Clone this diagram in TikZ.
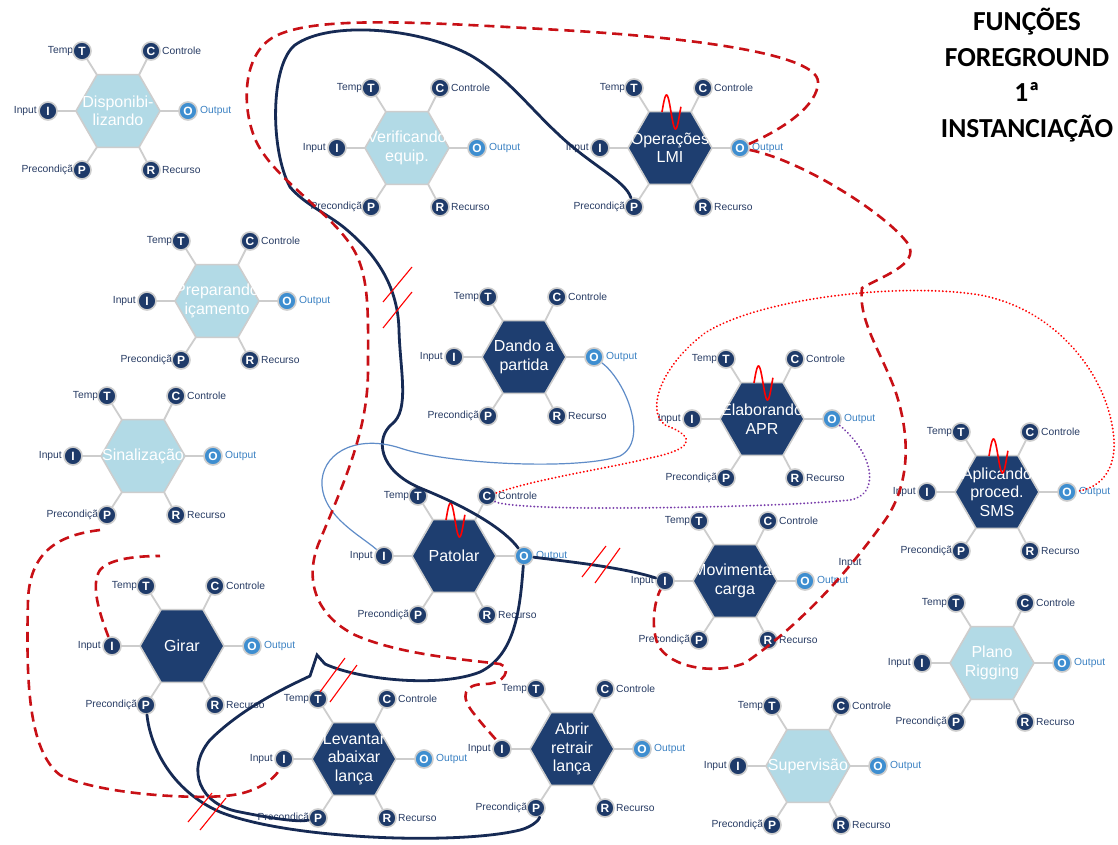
\documentclass[tikz,border=0pt]{standalone}
\usepackage{fontspec}
\setmainfont{Liberation Sans}
\newfontfamily\titlefont{Carlito}
\usetikzlibrary{shapes.geometric}
\definecolor{hexdark}{RGB}{30,62,112}
\definecolor{hexlight}{RGB}{178,218,230}
\definecolor{hexedge}{RGB}{205,205,205}
\definecolor{aspfill}{RGB}{30,58,105}
\definecolor{outfill}{RGB}{62,142,208}
\definecolor{lblcol}{RGB}{40,60,100}
\definecolor{outlbl}{RGB}{60,130,195}
\definecolor{navyline}{RGB}{22,42,84}
\definecolor{reddash}{RGB}{200,16,22}
\definecolor{thinblue}{RGB}{95,140,200}
\definecolor{purpledot}{RGB}{120,60,170}
\tikzset{
 hexd/.style={regular polygon, regular polygon sides=6, minimum size=84pt, inner sep=0pt, fill=hexdark, draw=hexedge, line width=1.6pt},
 hexl/.style={hexd, fill=hexlight},
 aspline/.style={draw=hexedge, line width=1.8pt},
 asp/.style={circle, minimum size=18pt, inner sep=0pt, fill=aspfill, draw=hexedge, line width=1.6pt, text=white, font=\fontsize{12}{12}\selectfont\bfseries},
 aspout/.style={asp, fill=outfill},
 lbl/.style={inner sep=0pt, text=lblcol, font=\fontsize{10.3}{11}\selectfont},
 outl/.style={lbl, text=outlbl},
 hextxt/.style={text=white, align=center, font=\fontsize{16}{18.5}\selectfont, inner sep=0pt},
 navyc/.style={draw=navyline, line width=2.8pt, line cap=round},
 dashr/.style={draw=reddash, line width=2.6pt, dash pattern=on 10pt off 6pt},
 dotr/.style={draw=red, line width=2pt, dash pattern=on 0.1pt off 3.5pt, line cap=round},
 dotp/.style={draw=purpledot, line width=2pt, dash pattern=on 0.1pt off 3.5pt, line cap=round},
 thinb/.style={draw=thinblue, line width=1.2pt},
 slash/.style={draw=red, line width=1.1pt},
 wavec/.style={draw=red, line width=1.6pt},
 titl/.style={align=center, font=\titlefont\bfseries\fontsize{27.5}{35.5}\selectfont, inner sep=0pt},
}
\newcommand{\framfn}[5]{%
\begin{scope}[shift={(#2,#3)}]
 \draw[aspline] (-36,-60) -- (-21,-36);
 \draw[aspline] (33,-60) -- (21,-36);
 \draw[aspline] (-70,0) -- (-42,0);
 \draw[aspline] (70,0) -- (42,0);
 \draw[aspline] (-36,59) -- (-21,36);
 \draw[aspline] (33,59) -- (21,36);
 \node[#5] (#1) at (0,0) {};
 \node[lbl, anchor=east] (#1-lt) at (-39,-60) {Tempo};
 \node[lbl, anchor=west] (#1-lc) at (44,-60) {Controle};
 \node[lbl, anchor=east] (#1-li) at (-81,0) {Input};
 \node[outl, anchor=west] (#1-lo) at (82,0) {Output};
 \node[lbl, anchor=east] (#1-lp) at (-39,59) {Precondição};
 \node[lbl, anchor=west] (#1-lr) at (44,59) {Recurso};
 \node[asp] (#1-T) at (-36,-60) {T};
 \node[asp] (#1-C) at (33,-60) {C};
 \node[asp] (#1-I) at (-70,0) {I};
 \node[aspout] (#1-O) at (70,0) {O};
 \node[asp] (#1-P) at (-36,59) {P};
 \node[asp] (#1-R) at (33,59) {R};
 \node[hextxt] (#1-txt) at (0,0) {#4};
\end{scope}}
\newcommand{\framwave}[2]{\draw[wavec] plot[domain=0:1.05, samples=40, smooth] ({#1-8+18*\x}, {#2-36-17*sin(360*\x)});}
\begin{document}
\begin{tikzpicture}[x=1pt,y=-1pt]
\useasboundingbox (0,0) rectangle (1118,845);
\fill[white] (0,0) rectangle (1118,845);
\node[titl] (title) at (1027,75) {FUNÇÕES\\FOREGROUND\\1ª\\INSTANCIAÇÃO};

\framfn{dis}{118}{111}{Disponibi-\\lizando}{hexl}
\framfn{ver}{407}{148}{Verificando\\equip.}{hexl}
\framfn{ope}{670}{148}{Operações\\LMI}{hexd}
\framfn{pre}{217}{301}{Preparando\\içamento}{hexl}
\framfn{dan}{524}{357}{Dando a\\partida}{hexd}
\framfn{ela}{762}{419}{Elaborando\\APR}{hexd}
\framfn{sin}{143}{456}{Sinalização}{hexl}
\framfn{apl}{997}{492}{Aplicando\\proced.\\SMS}{hexd}
\framfn{pat}{454}{556}{Patolar}{hexd}
\framfn{mov}{735}{581}{Movimentar\\carga}{hexd}
\framfn{gir}{182}{646}{Girar}{hexd}
\framfn{pla}{992}{663}{Plano\\Rigging}{hexl}
\framfn{lev}{354}{759}{Levantar\\abaixar\\lança}{hexd}
\framfn{abr}{572}{749}{Abrir\\retrair\\lança}{hexd}
\framfn{sup}{808}{766}{Supervisão}{hexl}
\node[lbl] (stray) at (850,563) {Input};

\framwave{670}{148}
\framwave{762}{419}
\framwave{997}{492}
\framwave{454}{556}

% navy solid
\draw[navyc] (ope-P) .. controls (625,180) and (590,165) .. (557,133) .. controls (530,108) and (505,75) .. (470,55) .. controls (420,28) and (330,20) .. (295,45) .. controls (270,65) and (270,150) .. (290,187) .. controls (305,205) and (330,215) .. (347,230) .. controls (380,258) and (398,290) .. (399,330) .. controls (400,370) and (410,410) .. (392,424) .. controls (375,438) and (378,470) .. (420,488) .. controls (470,508) and (505,530) .. (pat-O);
\draw[navyc] (pat-O) .. controls (580,563) and (625,568) .. (mov-I);
\draw[navyc] (pat-O) .. controls (520,610) and (515,655) .. (480,672) .. controls (440,688) and (360,680) .. (325,664) -- (317,655) -- (310,676) .. controls (280,690) and (240,710) .. (210,740) .. controls (185,770) and (200,805) .. (240,812) .. controls (280,820) and (300,822) .. (lev-P);
\draw[navyc] (gir-P) .. controls (150,745) and (170,790) .. (220,812) .. controls (290,840) and (460,845) .. (520,830) .. controls (535,826) and (540,818) .. (abr-P);
% thin blue
\draw[thinb] (dan-O) .. controls (625,380) and (650,440) .. (620,456) .. controls (580,470) and (450,465) .. (400,448) .. controls (360,435) and (325,450) .. (322,480) .. controls (320,515) and (360,535) .. (pat-I);
% dotted
\draw[dotr] (pat-C) .. controls (540,478) and (610,468) .. (650,458) .. controls (690,450) and (700,438) .. (665,425) .. controls (645,410) and (662,365) .. (705,333) .. controls (760,298) and (900,282) .. (980,295) .. controls (1060,310) and (1110,380) .. (1114,440) .. controls (1116,480) and (1090,490) .. (apl-O);
\draw[dotp] (pat-C) .. controls (500,505) and (540,508) .. (600,508) .. controls (700,508) and (800,505) .. (850,500) .. controls (880,495) and (875,455) .. (ela-O);
% red dashed
\draw[dashr] (ope-O) .. controls (785,128) and (818,105) .. (818,82) .. controls (818,55) and (700,38) .. (560,30) .. controls (420,22) and (310,15) .. (272,38) .. controls (240,58) and (242,115) .. (258,145) .. controls (278,182) and (335,215) .. (355,252) .. controls (370,280) and (368,320) .. (368,370) .. controls (368,430) and (345,480) .. (318,545) .. controls (305,580) and (315,615) .. (355,635) .. controls (400,655) and (470,660) .. (500,664) .. controls (512,668) and (505,684) .. (485,684) .. controls (465,684) and (458,695) .. (475,715) .. controls (485,728) and (495,738) .. (abr-I);
\draw[dashr] (ope-O) .. controls (800,160) and (880,210) .. (905,240) .. controls (925,262) and (885,275) .. (862,288) .. controls (858,320) and (880,350) .. (895,390) .. controls (912,440) and (910,490) .. (880,527) .. controls (845,575) and (800,625) .. (745,663) .. controls (715,675) and (670,668) .. (658,645) .. controls (650,625) and (655,600) .. (mov-I);
\draw[dashr] (gir-I) .. controls (100,615) and (90,585) .. (100,570) .. controls (110,558) and (140,556) .. (160,556);
\draw[dashr] (100,530) .. controls (60,535) and (30,550) .. (28,600) .. controls (26,680) and (28,750) .. (60,775) .. controls (100,795) and (200,800) .. (233,795) .. controls (255,792) and (275,780) .. (lev-I);
% slash marks
\draw[slash] (383,302) -- (412,267);
\draw[slash] (383,328) -- (412,292);
\draw[slash] (582,577) -- (606,546);
\draw[slash] (595,583) -- (620,548);
\draw[slash] (320,692) -- (345,658);
\draw[slash] (330,702) -- (357,665);
\draw[slash] (188,822) -- (212,793);
\draw[slash] (200,830) -- (226,798);
\end{tikzpicture}
\end{document}
